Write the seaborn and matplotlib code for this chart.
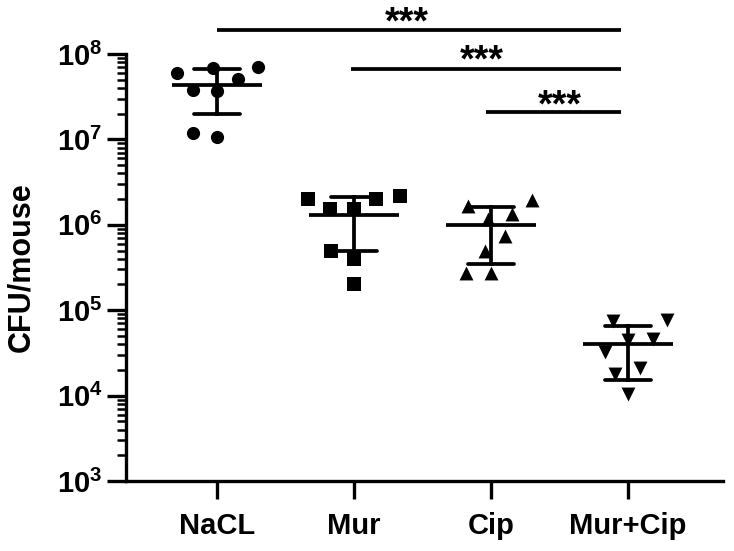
import numpy as np
import pandas as pd
import seaborn as sns
import matplotlib.pyplot as plt
from matplotlib.ticker import LogLocator, FuncFormatter, NullFormatter

# CFU per mouse
groups = ["NaCL", "Mur", "Cip", "Mur+Cip"]
nacl = [5.1e7, 7.1e7, 6.0e7, 6.8e7, 3.7e7, 3.8e7, 1.06e7, 1.2e7]
mur = [2.0e6, 1.55e6, 2.15e6, 1.55e6, 2.0e6, 4.9e5, 4.0e5, 2.05e5]
cip = [1.93e6, 1.34e6, 1.67e6, 1.17e6, 7.3e5, 5.0e5, 2.7e5, 2.7e5]
murcip = [7.7e4, 7.5e4, 4.5e4, 4.6e4, 3.2e4, 2.1e4, 1.8e4, 1.04e4]
markers = ["o", "s", "^", "v"]

# significance brackets (all against Mur+Cip)
sig_from = ["NaCL", "Mur", "Cip"]
sig_labels = ["***", "***", "***"]

df = pd.DataFrame({
    "group": np.repeat(groups, [len(nacl), len(mur), len(cip), len(murcip)]),
    "cfu": nacl + mur + cip + murcip,
})

sns.set_style("ticks")
plt.rcParams["font.family"] = ["Liberation Sans", "DejaVu Sans"]
plt.rcParams["font.weight"] = "bold"
plt.rcParams["mathtext.fontset"] = "custom"
plt.rcParams["mathtext.bf"] = "Liberation Sans:bold"
plt.rcParams["mathtext.rm"] = "Liberation Sans:bold"
for k in ["text.color", "axes.labelcolor", "xtick.color", "ytick.color", "axes.edgecolor"]:
    plt.rcParams[k] = "black"

fig = plt.figure(figsize=(7.34, 5.51), dpi=100)
ax = fig.add_axes([126 / 734, 1 - 481 / 551, 597 / 734, 427 / 551])

# points + mean/SD are computed on the linear axis, log scale set afterwards
# (transparent edge only widens the swarm spacing)
for g, m in zip(groups, markers):
    sns.swarmplot(data=df[df["group"] == g], x="group", y="cfu", order=groups,
                  marker=m, size=10 if m in "^v" else 9.5, color="black",
                  linewidth=7, edgecolor=(0, 0, 0, 0), ax=ax, zorder=2)

sns.pointplot(data=df, x="group", y="cfu", order=groups, errorbar="sd",
              capsize=0.33, color="black", marker="_", markersize=65,
              markeredgewidth=2.7, linestyle="none",
              err_kws={"linewidth": 2.7}, ax=ax, zorder=3)

ax.set_yscale("log")
ax.set_ylim(1e3, 1e8)
ax.set_xlim(-0.664, 3.693)

ax.yaxis.set_major_locator(LogLocator(base=10, numticks=10))
ax.yaxis.set_minor_locator(LogLocator(base=10, subs=np.arange(2, 10), numticks=10))
ax.yaxis.set_major_formatter(FuncFormatter(lambda v, p: r"$\mathbf{10^{%d}}$" % round(np.log10(v))))
ax.yaxis.set_minor_formatter(NullFormatter())

sns.despine(ax=ax)
for s in ["left", "bottom"]:
    ax.spines[s].set_linewidth(2.4)
ax.tick_params(axis="y", which="major", length=14, width=2.4, labelsize=21, pad=3)
ax.tick_params(axis="y", which="minor", length=6.5, width=1.8)
ax.tick_params(axis="x", length=13, width=2.4, labelsize=21, pad=9)
for lab in ax.get_xticklabels():
    lab.set_fontweight("bold")

ax.set_xlabel("")
ax.set_ylabel("CFU/mouse", fontsize=22, fontweight="bold")
ax.yaxis.set_label_coords(-0.151, 0.5)

# brackets
line_y = [1.92e8, 6.7e7, 2.12e7]
star_x = [1.385, 1.93, 2.50]
star_y = [2.29e8, 8.1e7, 2.45e7]
for i, g in enumerate(sig_from):
    x0 = groups.index(g) - 0.02 * i
    ax.plot([x0, 2.95], [line_y[i], line_y[i]], color="black", lw=2.7,
            clip_on=False, solid_capstyle="butt")
    ax.text(star_x[i], star_y[i], sig_labels[i], ha="center", va="center",
            fontsize=27, fontweight="bold", clip_on=False)

fig.savefig("out.png", dpi=100)
